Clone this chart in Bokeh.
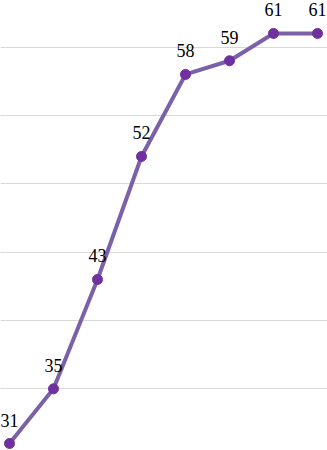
from bokeh.plotting import figure
from bokeh.models import ColumnDataSource, FixedTicker, LabelSet, Range1d
from bokeh.embed import file_html
from bokeh.resources import INLINE

categories = [0, 1, 2, 3, 4, 5, 6, 7]
values = [31, 35, 43, 52, 58, 59, 61, 61]
labels = [str(v) for v in values]
grid_ticks = [35, 40, 45, 50, 55, 60]

src = ColumnDataSource(dict(x=categories, y=values, label=labels))

p = figure(width=327, height=450, output_backend="svg", toolbar_location=None,
           x_range=Range1d(-0.2045, 7.227), y_range=Range1d(30.49, 63.41),
           min_border=0)
p.outline_line_color = None
p.axis.visible = False
p.xgrid.visible = False
p.ygrid.ticker = FixedTicker(ticks=grid_ticks)
p.ygrid.grid_line_color = "#d9d9d9"
p.ygrid.grid_line_width = 1
p.background_fill_color = "white"
p.border_fill_color = "white"

p.line("x", "y", source=src, line_color="#7b61a8", line_width=4)
p.scatter("x", "y", source=src, size=10, fill_color="#7030a0", line_color="#7030a0")

lbl = LabelSet(x="x", y="y", text="label", source=src, text_align="center",
               text_baseline="alphabetic", y_offset=17, text_font="Open Sans",
               text_font_size="18px", text_color="#000000")
p.add_layout(lbl)

open("out.html", "w").write(file_html(p, INLINE))
